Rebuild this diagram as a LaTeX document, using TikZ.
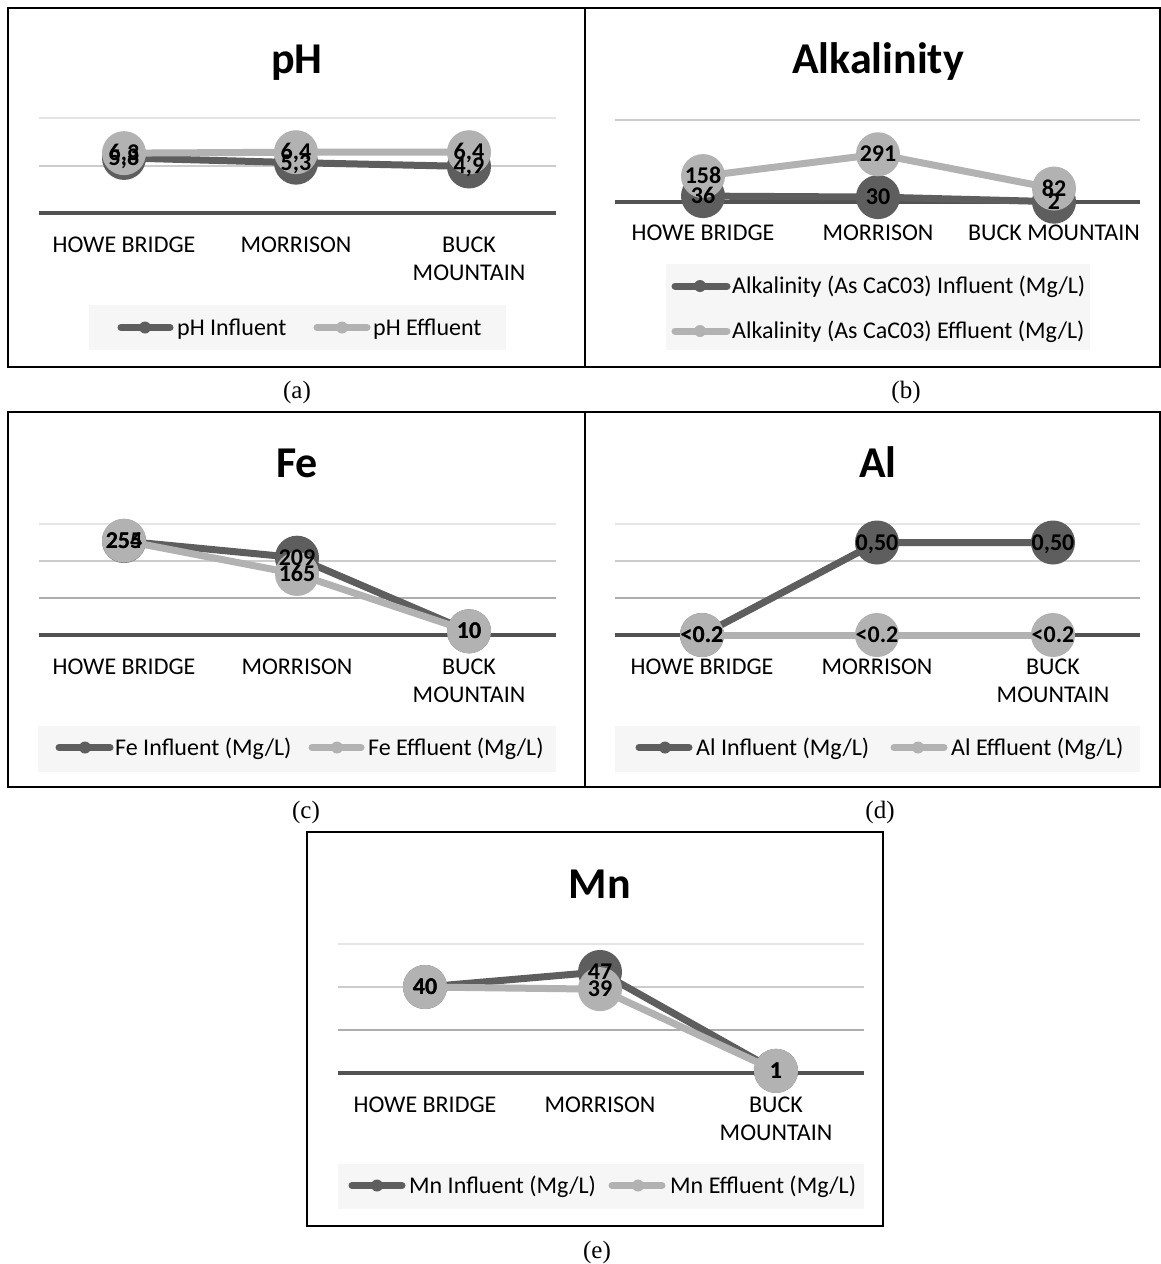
\documentclass[tikz,border=0pt]{standalone}
\usepackage{fontspec}
\setmainfont{Carlito}
\newfontfamily\capfont{Liberation Serif}
\definecolor{dk}{gray}{0.37}
\definecolor{lt}{gray}{0.70}
\definecolor{ax}{gray}{0.32}
\definecolor{gA}{gray}{0.90}
\definecolor{gB}{gray}{0.80}
\definecolor{gC}{gray}{0.68}
\definecolor{legbg}{gray}{0.965}
\begin{document}
\begin{tikzpicture}[x=1pt,y=-1pt,
 frame/.style={draw=black,line width=2pt},
 axisline/.style={draw=ax,line width=4pt},
 gridA/.style={draw=gA,line width=1.5pt},
 gridB/.style={draw=gB,line width=1.5pt},
 gridC/.style={draw=gC,line width=1.5pt},
 inf/.style={draw=dk,line width=7pt,line join=round},
 eff/.style={draw=lt,line width=7pt,line join=round},
 legln/.style={line width=7pt,line cap=round},
 dlab/.style={anchor=base,yshift=-7.5pt,inner sep=0pt,font=\fontsize{24}{24}\selectfont\bfseries},
 cat/.style={anchor=base,inner sep=0pt,font=\fontsize{24}{24}\selectfont},
 ttl/.style={anchor=base,inner sep=0pt,font=\fontsize{44}{44}\selectfont\bfseries},
 leg/.style={anchor=base west,inner sep=0pt,font=\fontsize{24}{24}\selectfont},
 captxt/.style={inner sep=0pt,font=\capfont\fontsize{25}{25}\selectfont},
]
\useasboundingbox (0,0) rectangle (1161,1264);
\fill[white] (0,0) rectangle (1161,1264);

% ================= Panel (a): pH =================
\draw[frame] (8,8) rectangle (585,367);
\node[ttl] (ta) at (297,73) {pH};
\draw[gridA] (39,118) -- (556,118);
\draw[gridB] (39,166) -- (556,166);
\draw[axisline] (39,213) -- (556,213);
\coordinate (ai1) at (124,{213-9.5*5.8});
\coordinate (ai2) at (296,{213-9.5*5.3});
\coordinate (ai3) at (469,{213-9.5*4.9});
\coordinate (ae1) at (124,{213-9.5*6.3});
\coordinate (ae2) at (296,{213-9.5*6.4});
\coordinate (ae3) at (469,{213-9.5*6.4});
\draw[inf] (ai1) -- (ai2) -- (ai3);
\foreach \p in {ai1,ai2,ai3} \fill[dk] (\p) circle (22pt);
\draw[eff] (ae1) -- (ae2) -- (ae3);
\foreach \p in {ae1,ae2,ae3} \fill[lt] (\p) circle (22pt);
\node[dlab] (lai1) at (ai1) {5,8};
\node[dlab] (lai2) at (ai2) {5,3};
\node[dlab] (lai3) at (ai3) {4,9};
\node[dlab] (lae1) at (ae1) {6,3};
\node[dlab] (lae2) at (ae2) {6,4};
\node[dlab] (lae3) at (ae3) {6,4};
\node[cat] (ca1) at (124,252) {HOWE BRIDGE};
\node[cat] (ca2) at (296,252) {MORRISON};
\node[cat] (ca3) at (469,252) {BUCK};
\node[cat] (ca4) at (469,280) {MOUNTAIN};
\fill[legbg] (89,305) rectangle (506,350);
\draw[legln,dk] (121,327.5) -- (170,327.5); \fill[dk] (145,327.5) circle (6pt);
\node[leg] (lga1) at (177,335) {pH Influent};
\draw[legln,lt] (317,327.5) -- (367,327.5); \fill[lt] (342,327.5) circle (6pt);
\node[leg] (lga2) at (373,335) {pH Effluent};
\node[captxt] (capa) at (297,392) {(a)};

% ================= Panel (b): Alkalinity =================
\draw[frame] (585,8) rectangle (1159.5,367);
\node[ttl] (tb) at (878,73) {Alkalinity};
\draw[gridB] (615,120) -- (1140,120);
\draw[axisline] (615,202) -- (1140,202);
\coordinate (bi1) at (703,{202-0.164*36});
\coordinate (bi2) at (878,{202-0.164*30});
\coordinate (bi3) at (1054,{202-0.164*2});
\coordinate (be1) at (703,{202-0.164*158});
\coordinate (be2) at (878,{202-0.164*291});
\coordinate (be3) at (1054,{202-0.164*82});
\draw[inf] (bi1) -- (bi2) -- (bi3);
\foreach \p in {bi1,bi2,bi3} \fill[dk] (\p) circle (22pt);
\draw[eff] (be1) -- (be2) -- (be3);
\foreach \p in {be1,be2,be3} \fill[lt] (\p) circle (22pt);
\node[dlab] (lbi1) at (bi1) {36};
\node[dlab] (lbi2) at (bi2) {30};
\node[dlab] (lbi3) at (bi3) {2};
\node[dlab] (lbe1) at (be1) {158};
\node[dlab] (lbe2) at (be2) {291};
\node[dlab] (lbe3) at (be3) {82};
\node[cat] (cb1) at (703,240) {HOWE BRIDGE};
\node[cat] (cb2) at (878,240) {MORRISON};
\node[cat] (cb3) at (1054,240) {BUCK MOUNTAIN};
\fill[legbg] (666,264) rectangle (1090,350);
\draw[legln,dk] (675,286) -- (727,286); \fill[dk] (700,286) circle (6pt);
\node[leg] (lgb1) at (732,293.5) {Alkalinity (As CaC03) Influent (Mg/L)};
\draw[legln,lt] (675,331) -- (727,331); \fill[lt] (700,331) circle (6pt);
\node[leg] (lgb2) at (732,338.5) {Alkalinity (As CaC03) Effluent (Mg/L)};
\node[captxt] (capb) at (906,392) {(b)};

% ================= Panel (c): Fe =================
\draw[frame] (8,412) rectangle (585,787);
\node[ttl] (tc) at (297,477) {Fe};
\draw[gridA] (39,524) -- (556,524);
\draw[gridB] (39,561) -- (556,561);
\draw[gridC] (39,598) -- (556,598);
\draw[axisline] (39,635) -- (556,635);
\coordinate (ci1) at (124,{635-0.37*254});
\coordinate (ci2) at (297,{635-0.37*209});
\coordinate (ci3) at (469,{635-0.37*10});
\coordinate (ce1) at (124,{635-0.37*255});
\coordinate (ce2) at (297,{635-0.37*165});
\coordinate (ce3) at (469,{635-0.37*10});
\draw[inf] (ci1) -- (ci2) -- (ci3);
\foreach \p in {ci1,ci2,ci3} \fill[dk] (\p) circle (22pt);
\draw[eff] (ce1) -- (ce2) -- (ce3);
\foreach \p in {ce1,ce2,ce3} \fill[lt] (\p) circle (22pt);
\node[dlab] (lci1) at (ci1) {254};
\node[dlab] (lci2) at (ci2) {209};
\node[dlab] (lci3) at (ci3) {10};
\node[dlab] (lce1) at (ce1) {255};
\node[dlab] (lce2) at (ce2) {165};
\node[dlab] (lce3) at (ce3) {10};
\node[cat] (cc1) at (124,674) {HOWE BRIDGE};
\node[cat] (cc2) at (297,674) {MORRISON};
\node[cat] (cc3) at (469,674) {BUCK};
\node[cat] (cc4) at (469,702) {MOUNTAIN};
\fill[legbg] (38,726) rectangle (556,772);
\draw[legln,dk] (59,747.5) -- (110,747.5); \fill[dk] (85,747.5) circle (6pt);
\node[leg] (lgc1) at (115,755) {Fe Influent (Mg/L)};
\draw[legln,lt] (312,747.5) -- (361,747.5); \fill[lt] (337,747.5) circle (6pt);
\node[leg] (lgc2) at (368,755) {Fe Effluent (Mg/L)};
\node[captxt] (capc) at (306,812) {(c)};

% ================= Panel (d): Al =================
\draw[frame] (585,412) rectangle (1159.5,787);
\node[ttl] (td) at (878,477) {Al};
\draw[gridA] (615,524) -- (1140,524);
\draw[gridB] (615,561) -- (1140,561);
\draw[gridC] (615,598) -- (1140,598);
\draw[axisline] (615,635) -- (1140,635);
\coordinate (di1) at (702,635);
\coordinate (di2) at (877,{635-185*0.5});
\coordinate (di3) at (1053,{635-185*0.5});
\coordinate (de1) at (702,635);
\coordinate (de2) at (877,635);
\coordinate (de3) at (1053,635);
\draw[inf] (di1) -- (di2) -- (di3);
\foreach \p in {di1,di2,di3} \fill[dk] (\p) circle (22pt);
\draw[eff] (de1) -- (de2) -- (de3);
\foreach \p in {de1,de2,de3} \fill[lt] (\p) circle (22pt);
\node[dlab] (ldi1) at (di1) {<0.2};
\node[dlab] (ldi2) at (di2) {0,50};
\node[dlab] (ldi3) at (di3) {0,50};
\node[dlab] (lde1) at (de1) {<0.2};
\node[dlab] (lde2) at (de2) {<0.2};
\node[dlab] (lde3) at (de3) {<0.2};
\node[cat] (cd1) at (702,674) {HOWE BRIDGE};
\node[cat] (cd2) at (877,674) {MORRISON};
\node[cat] (cd3) at (1053,674) {BUCK};
\node[cat] (cd4) at (1053,702) {MOUNTAIN};
\fill[legbg] (615,726) rectangle (1140,772);
\draw[legln,dk] (639,747.5) -- (689,747.5); \fill[dk] (665,747.5) circle (6pt);
\node[leg] (lgd1) at (696,755) {Al Influent (Mg/L)};
\draw[legln,lt] (894,747.5) -- (944,747.5); \fill[lt] (918,747.5) circle (6pt);
\node[leg] (lgd2) at (951,755) {Al Effluent (Mg/L)};
\node[captxt] (capd) at (880,812) {(d)};

% ================= Panel (e): Mn =================
\draw[frame] (307,832) rectangle (883,1226);
\node[ttl] (te) at (600,898) {Mn};
\draw[gridA] (338,944) -- (864,944);
\draw[gridB] (338,987) -- (864,987);
\draw[gridC] (338,1030) -- (864,1030);
\draw[axisline] (338,1073) -- (864,1073);
\coordinate (ei1) at (425,{1073-2.15*40});
\coordinate (ei2) at (600,{1073-2.15*47});
\coordinate (ei3) at (776,{1073-2.15*1});
\coordinate (ee1) at (425,{1073-2.15*40});
\coordinate (ee2) at (600,{1073-2.15*39});
\coordinate (ee3) at (776,{1073-2.15*1});
\draw[inf] (ei1) -- (ei2) -- (ei3);
\foreach \p in {ei1,ei2,ei3} \fill[dk] (\p) circle (22pt);
\draw[eff] (ee1) -- (ee2) -- (ee3);
\foreach \p in {ee1,ee2,ee3} \fill[lt] (\p) circle (22pt);
\node[dlab] (lei1) at (ei1) {40};
\node[dlab] (lei2) at (ei2) {47};
\node[dlab] (lei3) at (ei3) {1};
\node[dlab] (lee1) at (ee1) {40};
\node[dlab] (lee2) at (ee2) {39};
\node[dlab] (lee3) at (ee3) {1};
\node[cat] (ce1t) at (425,1112) {HOWE BRIDGE};
\node[cat] (ce2t) at (600,1112) {MORRISON};
\node[cat] (ce3t) at (776,1112) {BUCK};
\node[cat] (ce4t) at (776,1140) {MOUNTAIN};
\fill[legbg] (338,1164) rectangle (864,1209);
\draw[legln,dk] (352,1185.5) -- (402,1185.5); \fill[dk] (377,1185.5) circle (6pt);
\node[leg] (lge1) at (409,1193) {Mn Influent (Mg/L)};
\draw[legln,lt] (612,1185.5) -- (662,1185.5); \fill[lt] (638,1185.5) circle (6pt);
\node[leg] (lge2) at (670,1193) {Mn Effluent (Mg/L)};
\node[captxt] (cape) at (597,1252) {(e)};
\end{tikzpicture}
\end{document}
